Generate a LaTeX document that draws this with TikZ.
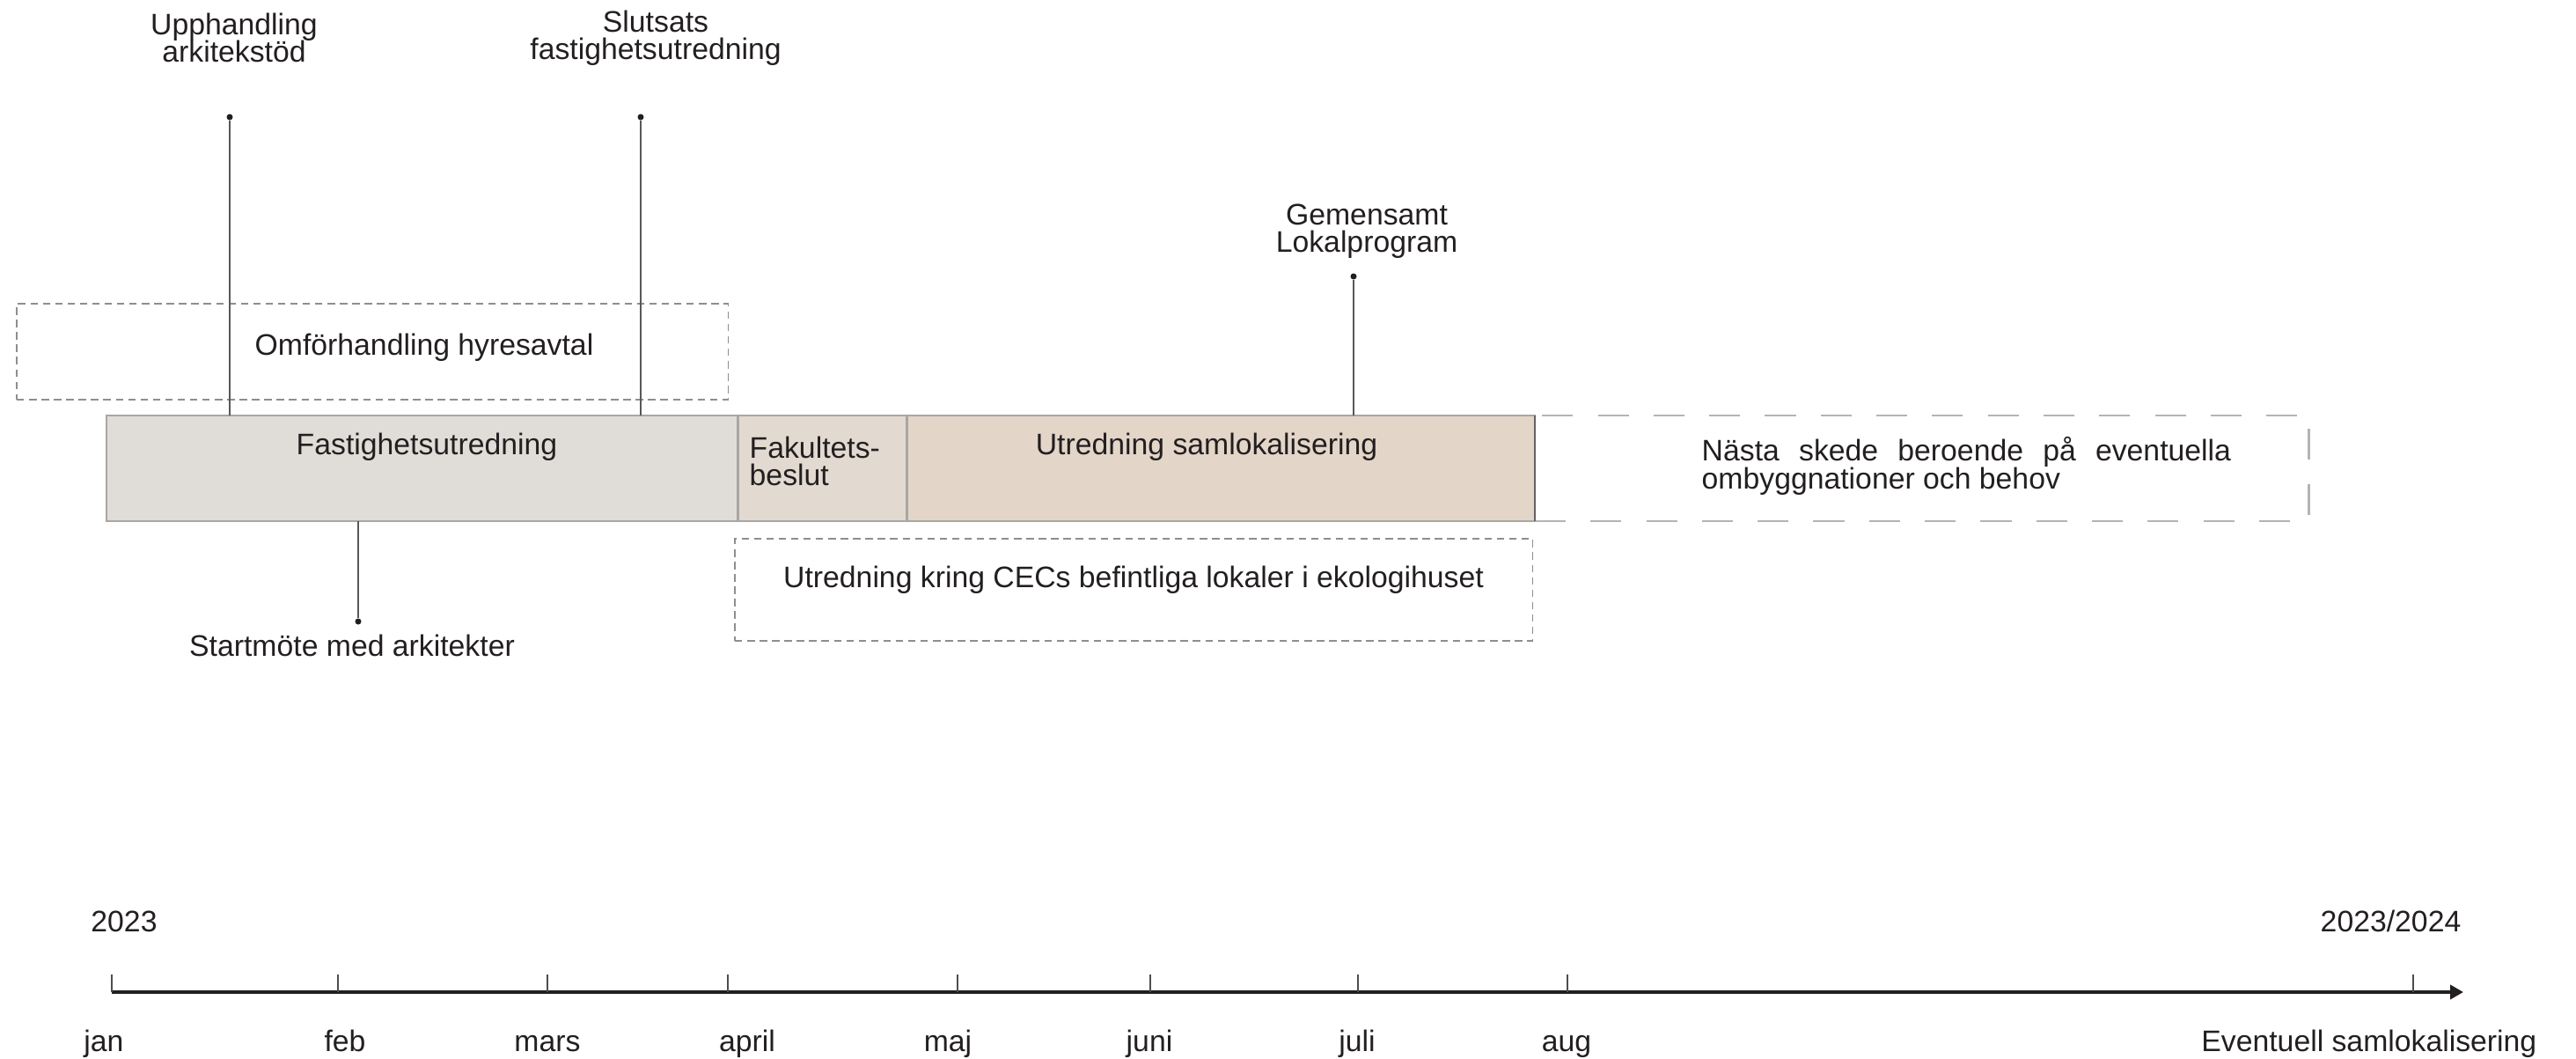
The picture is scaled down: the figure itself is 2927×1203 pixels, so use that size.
\documentclass[tikz,border=0pt]{standalone}
\usepackage{fontspec}
\setmainfont{Liberation Sans}
\usetikzlibrary{positioning,arrows.meta}

\definecolor{fastgray}{HTML}{E0DDD9}
\definecolor{beslutbeige}{HTML}{E2D9D0}
\definecolor{samlokbeige}{HTML}{E3D5C8}
\definecolor{barline}{HTML}{A9A6A3}
\definecolor{dashgray}{HTML}{8E8E8E}
\definecolor{ink}{HTML}{231F20}

\newcommand\planfont{\fontsize{9.6}{8.9}\selectfont\lineskiplimit=-4pt\relax}

\tikzset{
  txt/.style={font=\planfont, text=ink, inner sep=0pt, align=center},
  phase/.style={draw=barline, line width=0.7pt, minimum height=1.2cm, anchor=north west, inner sep=0pt, outer sep=0pt},
  plan/.style={draw=dashgray, dash pattern=on 2.4pt off 1.6pt, line width=0.45pt, anchor=north west, inner sep=0pt, outer sep=0pt},
  later/.style={draw=barline!85, dash pattern=on 10pt off 8pt, line width=0.7pt, anchor=north west, inner sep=0pt, outer sep=0pt},
  milestone/.style={circle, fill=ink, inner sep=0pt, minimum size=0.07cm},
  stem/.style={draw=ink!75, line width=0.55pt},
  monthtick/.style={draw=ink!80, line width=0.45pt},
}

\begin{document}
\begin{tikzpicture}[x=0.01cm, y=-0.01cm]
  \useasboundingbox (0,0) rectangle (2927,1203);

  % phases
  \node[phase, fill=fastgray, minimum width=7.17cm] (fast) at (121,472) {};
  \node[phase, fill=beslutbeige, minimum width=1.92cm] (beslut) at (fast.north east) {};
  \node[phase, fill=samlokbeige, minimum width=7.13cm] (samlok) at (beslut.north east) {};
  \node[later, minimum width=8.79cm, minimum height=1.2cm] (nasta) at (samlok.north east) {};
  \draw[draw=ink!70, line width=0.5pt] (samlok.north east) -- (samlok.south east);

  \node[txt] (fasttxt) at (485,508) {Fastighetsutredning};
  \node[txt, align=left, anchor=north west] (beslutxt) at (851,495) {Fakultets-\\beslut};
  \node[txt] (samloktxt) at (1371,508) {Utredning samlokalisering};
  \node[txt, align=left, anchor=north west] (nastatxt) at (1933,496)
    {\hbox to 6.01cm{Nästa\hfill skede\hfill beroende\hfill på\hfill eventuella}\\ombyggnationer och behov};

  % parallel work
  \node[plan, minimum width=8.08cm, minimum height=1.09cm] (hyra) at (19,345) {};
  \node[txt] (hyratxt) at (482,395) {Omförhandling hyresavtal};
  \node[plan, minimum width=9.06cm, minimum height=1.16cm] (cec) at (835,612) {};
  \node[txt] (cectxt) at (1288,659) {Utredning kring CECs befintliga lokaler i ekologihuset};

  % milestones
  \node[milestone] (upph) at (261,133) {};
  \node[txt] (upphtxt) at (266,43) {Upphandling\\arkitekstöd};
  \draw[stem] (upph) -- (upph |- fast.north);

  \node[milestone] (slut) at (728,133) {};
  \node[txt] (sluttxt) at (745,43) {Slutsats\\fastighetsutredning};
  \draw[stem] (slut) -- (slut |- fast.north);

  \node[milestone] (gem) at (1538,314) {};
  \node[txt] (gemtxt) at (1553,263) {Gemensamt\\Lokalprogram};
  \draw[stem] (gem) -- (gem |- samlok.north);

  \node[milestone] (start) at (407,706) {};
  \node[txt] (starttxt) at (400,733) {Startmöte med arkitekter};
  \draw[stem] (start |- fast.south) -- (start);

  % time axis
  \coordinate (axstart) at (127,1127);
  \coordinate (axend) at (2799,1127);
  \draw[draw=ink, line width=1pt, -{Triangle[length=0.15cm, width=0.16cm]}] (axstart) -- (axend);
  \foreach \tx/\m/\lx in {127/jan/118, 384/feb/392, 622/mars/622, 827/april/849,
                          1088/maj/1077, 1307/juni/1306, 1543/juli/1542, 1781/aug/1780} {
    \coordinate (t\m) at (\tx,1127);
    \draw[monthtick] (t\m) -- ++(0,-20);
    \node[txt, anchor=base] (l\m) at (\lx,1194) {\m};
  }
  \coordinate (tsamlok) at (2742,1127);
  \draw[monthtick] (tsamlok) -- ++(0,-20);
  \node[txt, anchor=base east] (lsamlok) at (2883,1194) {Eventuell samlokalisering};

  \node[txt, anchor=base] (year) at (141,1058) {2023};
  \node[txt, anchor=base east] (nextyear) at (2797,1058) {2023/2024};
\end{tikzpicture}
\end{document}
